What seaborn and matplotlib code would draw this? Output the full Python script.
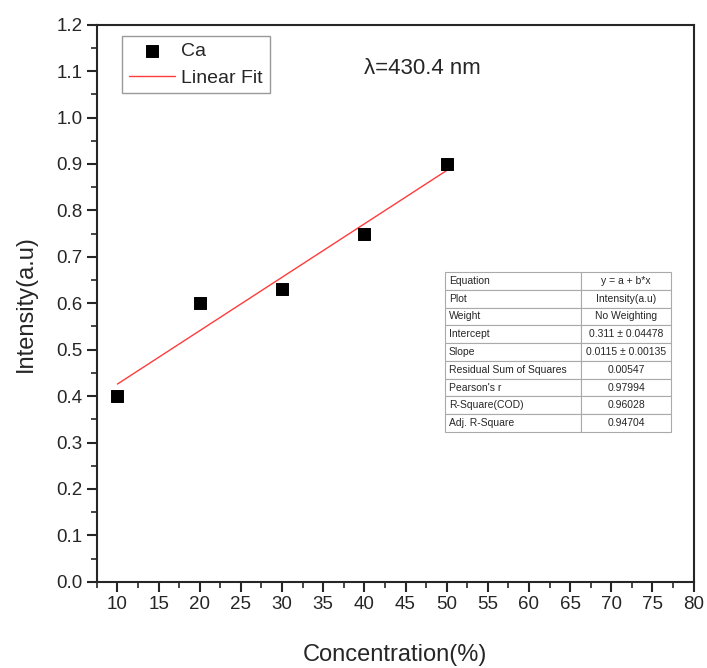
import matplotlib
matplotlib.use("Agg")
import matplotlib.pyplot as plt
import seaborn as sns
import numpy as np
import pandas as pd
from matplotlib.ticker import MultipleLocator, FormatStrFormatter

concentration = [10, 20, 30, 40, 50]
intensity = [0.40, 0.60, 0.63, 0.75, 0.90]

fit_intercept = 0.311
fit_slope = 0.0115

table_rows = ["Equation", "Plot", "Weight", "Intercept", "Slope",
              "Residual Sum of Squares", "Pearson's r", "R-Square(COD)",
              "Adj. R-Square"]
table_vals = ["y = a + b*x", "Intensity(a.u)", "No Weighting",
              "0.311 \u00b1 0.04478", "0.0115 \u00b1 0.00135", "0.00547",
              "0.97994", "0.96028", "0.94704"]

sns.set_style("ticks")
plt.rcParams['font.family'] = ['Liberation Sans', 'DejaVu Sans']

df = pd.DataFrame({"Concentration": concentration, "Intensity": intensity})

fig = plt.figure(figsize=(7.07, 6.68), dpi=100)
ax = fig.add_axes([0.137, 0.129, 0.844, 0.834])

sns.scatterplot(data=df, x="Concentration", y="Intensity", marker="s",
                color="black", s=75, edgecolor="black", label="Ca", ax=ax, zorder=3)

xfit = np.array([concentration[0], concentration[-1]])
ax.plot(xfit, fit_intercept + fit_slope * xfit, color="#ff3b3b", lw=1, label="Linear Fit")

ax.set_xlim(7.5, 80)
ax.set_ylim(0, 1.2)
ax.set_xticks(range(10, 81, 5))
ax.xaxis.set_minor_locator(MultipleLocator(2.5))
ax.yaxis.set_major_locator(MultipleLocator(0.1))
ax.yaxis.set_minor_locator(MultipleLocator(0.05))
ax.yaxis.set_major_formatter(FormatStrFormatter("%.1f"))
ax.tick_params(which="major", direction="out", length=7, width=1.5, labelsize=13.5)
ax.tick_params(which="minor", direction="out", length=4, width=1.2)
for s in ax.spines.values():
    s.set_linewidth(1.5)

ax.set_xlabel("Concentration(%)", fontsize=17, labelpad=22)
ax.set_ylabel("Intensity(a.u)", fontsize=17, labelpad=14)

leg = ax.legend(loc="upper left", bbox_to_anchor=(0.042, 0.98), fontsize=14,
                frameon=True, fancybox=False, edgecolor="gray",
                handlelength=2.4, handletextpad=0.3, borderpad=0.35,
                labelspacing=0.45, borderaxespad=0)
leg.get_frame().set_linewidth(1)

ax.text(47, 1.105, "\u03bb=430.4 nm", fontsize=16, ha="center", va="center")

tbl = ax.table(cellText=[[r, v] for r, v in zip(table_rows, table_vals)],
               cellLoc="left", bbox=[0.583, 0.269, 0.380, 0.287],
               colWidths=[0.6, 0.4])
tbl.auto_set_font_size(False)
tbl.set_fontsize(7.5)
for (r, c), cell in tbl.get_celld().items():
    cell.set_edgecolor("#aaaaaa")
    cell.set_linewidth(0.8)
    cell.PAD = 0.03
    if c == 1:
        cell.get_text().set_ha("center")
        cell._loc = "center"

fig.savefig("out.png", dpi=100)
